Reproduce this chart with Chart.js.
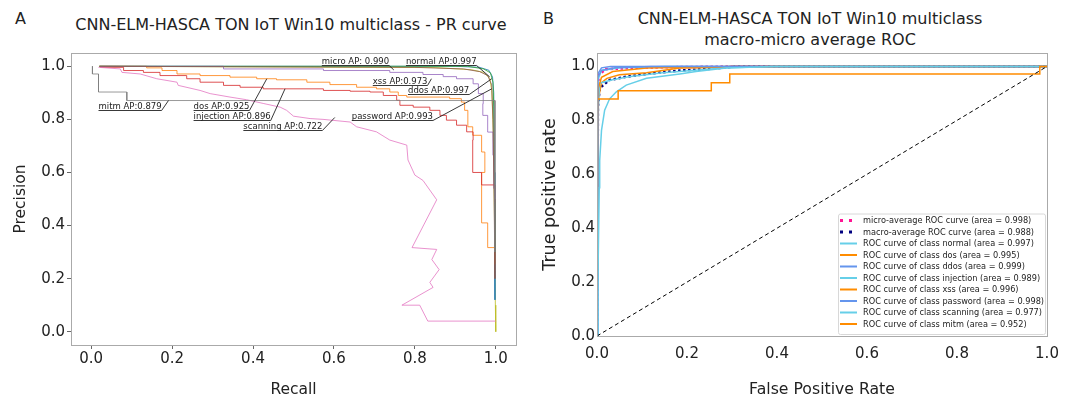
<!DOCTYPE html>
<html>
<head>
<meta charset="utf-8">
<script src="https://cdn.jsdelivr.net/npm/chart.js@4.4.0/dist/chart.umd.min.js"></script>
<style>
  body { margin: 0; background: #fff; width: 1069px; height: 399px; overflow: hidden; position: relative;
         font-family: "DejaVu Sans", sans-serif; color: #222; }
  canvas { position: absolute; top: 0; }
  #prChart { left: 0; }
  #rocChart { left: 540px; }
  .txt { position: absolute; white-space: nowrap; font-size: 16px; line-height: 19px; }
  .ctr { transform: translateX(-50%); text-align: center; }
</style>
</head>
<body>
<div class="txt" style="left:15px; top:9px;">A</div>
<div class="txt ctr" style="left:291px; top:15px;">CNN-ELM-HASCA TON IoT Win10 multiclass - PR curve</div>
<div class="txt" style="left:543px; top:9px;">B</div>
<div class="txt ctr" style="left:810px; top:8px; line-height:21px;">CNN-ELM-HASCA TON IoT Win10 multiclass<br>macro-micro average ROC</div>
<canvas id="prChart" width="540" height="399"></canvas>
<canvas id="rocChart" width="529" height="399"></canvas>
<script>
// ---- PR curves (recall, precision) ----
const prNames = ['micro', 'normal', 'dos', 'ddos', 'injection', 'xss', 'password', 'scanning', 'mitm'];
const prAP = [0.990, 0.997, 0.925, 0.997, 0.896, 0.973, 0.993, 0.722, 0.879];

const prMicro = [[0.02,1.0],[0.85,0.995],[0.94,0.987],[0.97,0.977],[0.985,0.955],[0.99,0.91],[0.994,0.75],[0.997,0.4],[0.999,0.1],[1.0,0.0]];
const prNormal = [[0.02,1.0],[0.9,1.0],[0.96,0.996],[0.983,0.985],[0.992,0.96],[0.995,0.9],[0.997,0.6],[0.998,0.12]];
const prDos = [[0.02,1.0],[0.137,0.994],[0.175,0.984],[0.212,0.971],[0.269,0.965],[0.343,0.959],[0.409,0.953],[0.458,0.949],
  [0.533,0.94],[0.59,0.931],[0.656,0.921],[0.705,0.915],[0.738,0.903],[0.759,0.89],[0.78,0.884],[0.886,0.878],[0.915,0.865],
  [0.923,0.834],[0.931,0.772],[0.943,0.74],[0.965,0.677],[0.973,0.6],[0.965,0.41],[0.98,0.317],[0.998,0.254]];
const prDdos = [[0.02,1.0],[0.93,1.0],[0.97,0.99],[0.987,0.975],[0.993,0.94],[0.995,0.85],[0.997,0.5],[0.998,0.3]];
const prInjection = [[0.022,0.996],[0.08,0.984],[0.129,0.977],[0.17,0.965],[0.236,0.953],[0.269,0.94],[0.327,0.928],[0.368,0.921],
  [0.425,0.915],[0.475,0.915],[0.574,0.909],[0.64,0.906],[0.689,0.903],[0.722,0.89],[0.755,0.872],[0.763,0.853],[0.796,0.846],
  [0.837,0.834],[0.862,0.815],[0.878,0.797],[0.903,0.778],[0.928,0.753],[0.944,0.722],[0.943,0.6],[0.965,0.553],[0.998,0.486]];
const prXss = [[0.022,1.0],[0.327,0.99],[0.574,0.984],[0.738,0.977],[0.82,0.969],[0.87,0.961],[0.903,0.953],[0.944,0.934],
  [0.957,0.897],[0.969,0.859],[0.968,0.815],[0.98,0.752],[0.993,0.665],[0.995,0.54],[0.998,0.49]];
const prPassword = [[0.02,1.0],[0.8,0.996],[0.92,0.99],[0.96,0.98],[0.98,0.965],[0.99,0.93],[0.993,0.8],[0.996,0.5],[0.998,0.2]];
const prScanning = [[0.018,0.996],[0.072,0.99],[0.076,0.977],[0.121,0.971],[0.162,0.953],[0.212,0.94],[0.215,0.928],[0.269,0.909],
  [0.294,0.897],[0.343,0.884],[0.384,0.874],[0.425,0.86],[0.467,0.846],[0.483,0.834],[0.5,0.812],[0.541,0.803],[0.573,0.8],
  [0.64,0.79],[0.656,0.772],[0.705,0.753],[0.738,0.722],[0.78,0.703],[0.783,0.647],[0.8,0.59],[0.82,0.57],[0.854,0.497],
  [0.793,0.317],[0.854,0.31],[0.842,0.272],[0.86,0.234],[0.837,0.186],[0.845,0.167],[0.768,0.1],[0.812,0.1],[0.832,0.04],[1.0,0.04]];
const prMitm = [[0.003,1.0],[0.003,0.971],[0.018,0.971],[0.018,0.903],[0.088,0.903],[0.088,0.871],[0.998,0.871],[0.998,0.3]];

const prCurves = [prMicro, prNormal, prDos, prDdos, prInjection, prXss, prPassword, prScanning, prMitm];
const prColors = ['#bcbd22', '#1f77b4', '#ff7f0e', '#2ca02c', '#d62728', '#9467bd', '#8c564b', '#e377c2', '#7f7f7f'];
const prStepped = [false, false, 'before', false, 'before', 'before', false, false, false];

// annotation: text anchor (left, underline) and the point the leader goes to
const prLabelOrder = ['micro', 'normal', 'xss', 'ddos', 'password', 'mitm', 'dos', 'injection', 'scanning'];
const prLabelAt = [[0.57,1.003],[0.778,1.003],[0.696,0.928],[0.783,0.897],[0.644,0.799],[0.018,0.834],[0.253,0.834],[0.253,0.797],[0.376,0.759]];
const prLabelTarget = [[0.748,0.986],[0.985,0.96],[0.841,0.953],[0.99,0.953],[0.99,0.915],[0.191,0.871],[0.434,0.953],[0.479,0.915],[0.602,0.807]];
const prTicks = [0, 0.2, 0.4, 0.6, 0.8, 1.0];

// ---- ROC curves (fpr, tpr) ----
const rocClasses = ['normal', 'dos', 'ddos', 'injection', 'xss', 'password', 'scanning', 'mitm'];
const rocAreas = [0.997, 0.995, 0.999, 0.989, 0.996, 0.998, 0.977, 0.952];
const rocMicroArea = 0.998;
const rocMacroArea = 0.988;

const rocMicro = [[0,0],[0.001,0.9],[0.004,0.97],[0.02,0.99],[0.1,0.996],[0.3,1.0],[1,1]];
const rocMacro = [[0,0],[0.002,0.85],[0.006,0.92],[0.028,0.95],[0.065,0.962],[0.11,0.972],[0.184,0.985],[0.243,0.99],[0.31,1.0],[1,1]];
const rocNormal = [[0,0],[0.002,0.95],[0.01,0.985],[0.05,0.995],[0.15,1],[1,1]];
const rocDos = [[0,0],[0.003,0.88],[0.01,0.94],[0.022,0.956],[0.05,0.969],[0.11,0.977],[0.184,0.994],[0.4,1.0],[1,1]];
const rocDdos = [[0,0],[0.001,0.97],[0.01,0.995],[0.03,1],[1,1]];
const rocInjection = [[0,0],[0.003,0.85],[0.006,0.938],[0.032,0.95],[0.07,0.962],[0.146,0.977],[0.184,0.981],[0.287,0.995],[0.4,1.0],[1,1]];
const rocXss = [[0,0],[0.003,0.92],[0.01,0.96],[0.035,0.981],[0.11,0.994],[0.3,1],[1,1]];
const rocPassword = [[0,0],[0.002,0.96],[0.01,0.985],[0.04,0.995],[0.12,1],[1,1]];
const rocScanning = [[0,0],[0.002,0.2],[0.005,0.55],[0.006,0.65],[0.01,0.763],[0.017,0.838],[0.028,0.88],[0.043,0.906],
  [0.065,0.931],[0.11,0.956],[0.184,0.972],[0.22,0.981],[0.287,0.994],[0.39,1.0],[1,1]];
const rocMitm = [[0,0],[0,0.879],[0.047,0.879],[0.047,0.91],[0.254,0.91],[0.254,0.94],[0.295,0.94],[0.295,0.972],[0.984,0.972],[0.984,1.0],[1,1]];
const chanceLine = [[0,0],[1,1]];

const rocCurves = [rocNormal, rocDos, rocDdos, rocInjection, rocXss, rocPassword, rocScanning, rocMitm];
const rocCycle = ['#66cfe8', '#ff8c00', '#6495ed'];
const rocTicks = [0, 0.2, 0.4, 0.6, 0.8, 1.0];

const FONT = "'DejaVu Sans', sans-serif";
Chart.defaults.font.family = FONT;
Chart.defaults.color = '#222';

const pts = arr => arr.map(([x, y]) => ({x, y}));

const boxPlugin = {
  id: 'box',
  afterDatasetsDraw(chart) {
    const a = chart.chartArea, ctx = chart.ctx;
    ctx.save();
    ctx.strokeStyle = '#aaa';
    ctx.lineWidth = 1;
    ctx.strokeRect(Math.round(a.left) + 0.5, Math.round(a.top) + 0.5, Math.round(a.right - a.left), Math.round(a.bottom - a.top));
    ctx.restore();
  }
};

const prNotes = {
  id: 'prNotes',
  afterDatasetsDraw(chart) {
    const {ctx, scales: {x, y}} = chart;
    ctx.save();
    ctx.font = '8.5px ' + FONT;
    ctx.fillStyle = '#222';
    ctx.strokeStyle = '#222';
    ctx.lineWidth = 0.9;
    ctx.textBaseline = 'alphabetic';
    prLabelOrder.forEach((name, i) => {
      const k = prNames.indexOf(name);
      const text = name === 'micro' ? 'micro AP: ' + prAP[k].toFixed(3) : name + ' AP:' + prAP[k].toFixed(3);
      const lx = x.getPixelForValue(prLabelAt[i][0]);
      const ly = Math.round(y.getPixelForValue(prLabelAt[i][1])) + 0.5;
      const w = ctx.measureText(text).width;
      ctx.fillText(text, lx, ly - 2);
      ctx.beginPath();
      ctx.moveTo(lx, ly);
      ctx.lineTo(lx + w, ly);
      ctx.lineTo(x.getPixelForValue(prLabelTarget[i][0]), y.getPixelForValue(prLabelTarget[i][1]));
      ctx.stroke();
    });
    ctx.restore();
  }
};

const rocLegend = {
  id: 'rocLegend',
  afterDatasetsDraw(chart) {
    const {ctx, chartArea: a} = chart;
    const items = chart.data.datasets.filter(d => d.label);
    const rowH = 11.5, w = 207, h = 7 + (items.length - 1) * rowH + 10;
    const x0 = a.right - 2 - w, y0 = a.bottom - 2 - h;
    ctx.save();
    ctx.beginPath();
    ctx.roundRect(x0 + 0.5, y0 + 0.5, w, h, 2);
    ctx.fillStyle = 'rgba(255,255,255,0.9)';
    ctx.fill();
    ctx.strokeStyle = '#d8d8d8';
    ctx.lineWidth = 1;
    ctx.stroke();
    ctx.font = '8.2px ' + FONT;
    ctx.textBaseline = 'middle';
    items.forEach((d, i) => {
      const yy = y0 + 7 + i * rowH;
      if (d.borderDash && d.borderDash.length) {
        ctx.fillStyle = d.borderColor;
        ctx.fillRect(x0 + 2, yy - 1.5, 3, 3);
        ctx.fillRect(x0 + 11, yy - 1.5, 3, 3);
      } else {
        ctx.strokeStyle = d.borderColor;
        ctx.lineWidth = 2;
        ctx.beginPath();
        ctx.moveTo(x0 + 2, yy);
        ctx.lineTo(x0 + 19, yy);
        ctx.stroke();
      }
      ctx.fillStyle = '#222';
      ctx.fillText(d.label, x0 + 25, yy + 0.5);
    });
    ctx.restore();
  }
};

function axis(min, max, tickVals, title, opt) {
  return {
    type: 'linear', min, max,
    afterFit: s => { if (opt.size.w !== undefined) s.width = opt.size.w; else s.height = opt.size.h; },
    afterBuildTicks: s => { s.ticks = tickVals.map(v => ({value: v})); },
    ticks: { callback: v => v.toFixed(1), font: {size: 15}, color: '#222', padding: opt.pad, maxRotation: 0, autoSkip: false },
    grid: { drawOnChartArea: false, drawTicks: opt.tick > 0, tickLength: opt.tick, color: '#666' },
    border: { display: false },
    title: { display: true, text: title, font: {size: opt.tsize}, color: '#222', padding: {top: opt.tpad, bottom: opt.tpad} }
  };
}

new Chart(document.getElementById('prChart'), {
  type: 'scatter',
  data: {
    datasets: prCurves.map((c, i) => ({
      label: prNames[i],
      data: pts(c),
      showLine: true,
      stepped: prStepped[i],
      borderColor: prColors[i] + 'cc',
      borderWidth: 1,
      pointRadius: 0,
      order: prCurves.length - i
    }))
  },
  options: {
    responsive: false, animation: false,
    layout: { padding: {top: 53, right: 24, left: 0, bottom: 0} },
    plugins: { legend: {display: false}, tooltip: {enabled: false} },
    scales: {
      x: axis(-0.05, 1.05, prTicks, 'Recall', {size: {h: 54}, pad: 1, tick: 4, tpad: 0, tsize: 15.5}),
      y: axis(-0.05, 1.05, prTicks, 'Precision', {size: {w: 71}, pad: 2, tick: 4, tpad: 12, tsize: 15.5})
    }
  },
  plugins: [boxPlugin, prNotes]
});

const rocSets = [
  { label: 'micro-average ROC curve (area = ' + rocMicroArea.toFixed(3) + ')', data: pts(rocMicro),
    borderColor: '#ff1493', borderWidth: 2.5, borderDash: [2.5, 2.5] },
  { label: 'macro-average ROC curve (area = ' + rocMacroArea.toFixed(3) + ')', data: pts(rocMacro),
    borderColor: '#000080', borderWidth: 2.5, borderDash: [2.5, 2.5] }
].concat(rocCurves.map((c, i) => ({
  label: 'ROC curve of class ' + rocClasses[i] + ' (area = ' + rocAreas[i].toFixed(3) + ')',
  data: pts(c), borderColor: rocCycle[i % 3], borderWidth: 1.5
}))).concat([{ label: '', data: pts(chanceLine), borderColor: '#000', borderWidth: 1, borderDash: [4, 3] }]);

rocSets.forEach((d, i) => { d.showLine = true; d.pointRadius = 0; d.order = rocSets.length - i; });

new Chart(document.getElementById('rocChart'), {
  type: 'scatter',
  data: { datasets: rocSets },
  options: {
    responsive: false, animation: false,
    layout: { padding: {top: 53, right: 22, left: 0, bottom: 0} },
    plugins: { legend: {display: false}, tooltip: {enabled: false} },
    scales: {
      x: axis(0, 1.0, rocTicks, 'False Positive Rate', {size: {h: 63}, pad: 9, tick: 0, tpad: 0, tsize: 15.7}),
      y: axis(0, 1.05, rocTicks, 'True positive rate', {size: {w: 57}, pad: 2, tick: 0, tpad: 0, tsize: 17.5})
    }
  },
  plugins: [boxPlugin, rocLegend]
});
</script>
</body>
</html>
